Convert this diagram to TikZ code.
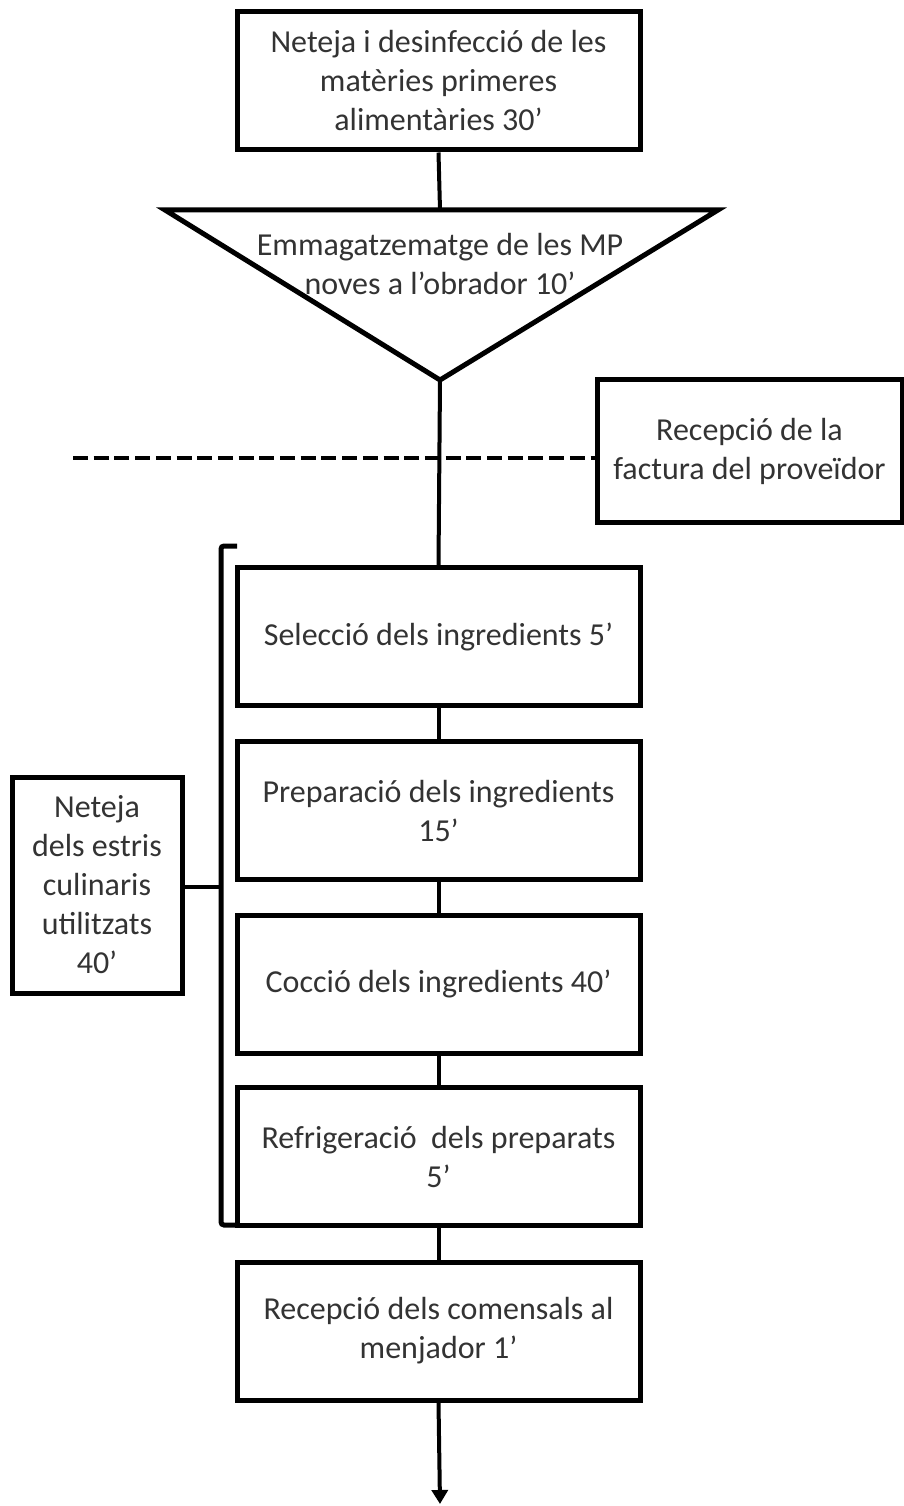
\documentclass[tikz,border=0pt]{standalone}
\usepackage{fontspec}
\setmainfont{Carlito}
\usetikzlibrary{arrows.meta}
\begin{document}
\begin{tikzpicture}[x=1pt,y=-1pt,
  box/.style={draw=black, line width=5pt, fill=white, align=center, inner sep=0pt,
    font=\fontsize{32}{39}\selectfont, text=black!80},
  mainbox/.style={box, minimum width=403pt, minimum height=138pt},
  conn/.style={line width=4pt, black},
  lbl/.style={align=center, font=\fontsize{32}{39}\selectfont, text=black!80, inner sep=0pt}]
\useasboundingbox (0,0) rectangle (904,1506);

% top box
\node[mainbox] (n1) at (438.5,81) {Neteja i desinfecció de les\\matèries primeres\\alimentàries 30’};

% triangle
\coordinate (tL) at (165,210);
\coordinate (tR) at (718,210);
\coordinate (tTop) at (440,210);
\coordinate (apex) at (440,380);
\draw[line width=5pt, line join=miter, fill=white] (tL) -- (tR) -- (apex) -- cycle;
\node[lbl] (tri) at (440,264) {Emmagatzematge de les MP\\noves a l’obrador 10’};

% invoice box
\node[box, minimum width=305pt, minimum height=143pt] (fact) at (749.5,451) {Recepció de la\\factura del proveïdor};

% dashed line
\coordinate (dashStart) at (73,458);
\draw[line width=4pt, dash pattern=on 15pt off 5.7pt] (dashStart) -- (fact.west |- dashStart);

% process boxes
\node[mainbox] (s1) at (438.5,636.5) {Selecció dels ingredients 5’};
\node[mainbox] (s2) at (438.5,810.5) {Preparació dels ingredients\\15’};
\node[mainbox] (s3) at (438.5,984) {Cocció dels ingredients 40’};
\node[mainbox] (s4) at (438.5,1156.5) {Refrigeració~ dels preparats\\5’};
\node[mainbox] (s5) at (438.5,1331) {Recepció dels comensals al\\menjador 1’};

% left box
\node[box, minimum width=170pt, minimum height=216pt] (clean) at (97,885) {Neteja\\dels estris\\culinaris\\utilitzats\\40’};

% connectors
\draw[conn] (n1.south) -- (tTop);
\draw[conn] (apex) -- (s1.north);
\draw[conn] (s1.south) -- (s2.north);
\draw[conn] (s2.south) -- (s3.north);
\draw[conn] (s3.south) -- (s4.north);
\draw[conn] (s4.south) -- (s5.north);
\coordinate (end) at (440,1504);
\draw[conn, -{Triangle[length=14pt,width=16pt]}] (s5.south) -- (end);

% bracket
\coordinate (bTop) at (237,546);
\coordinate (bBot) at (237,1225);
\draw[line width=5pt, rounded corners=3pt] (bTop) -- (221,546) -- (221,1225) -- (bBot);
\coordinate (bMid) at (221,887);
\draw[conn] (clean.east |- bMid) -- (bMid);
\end{tikzpicture}
\end{document}
